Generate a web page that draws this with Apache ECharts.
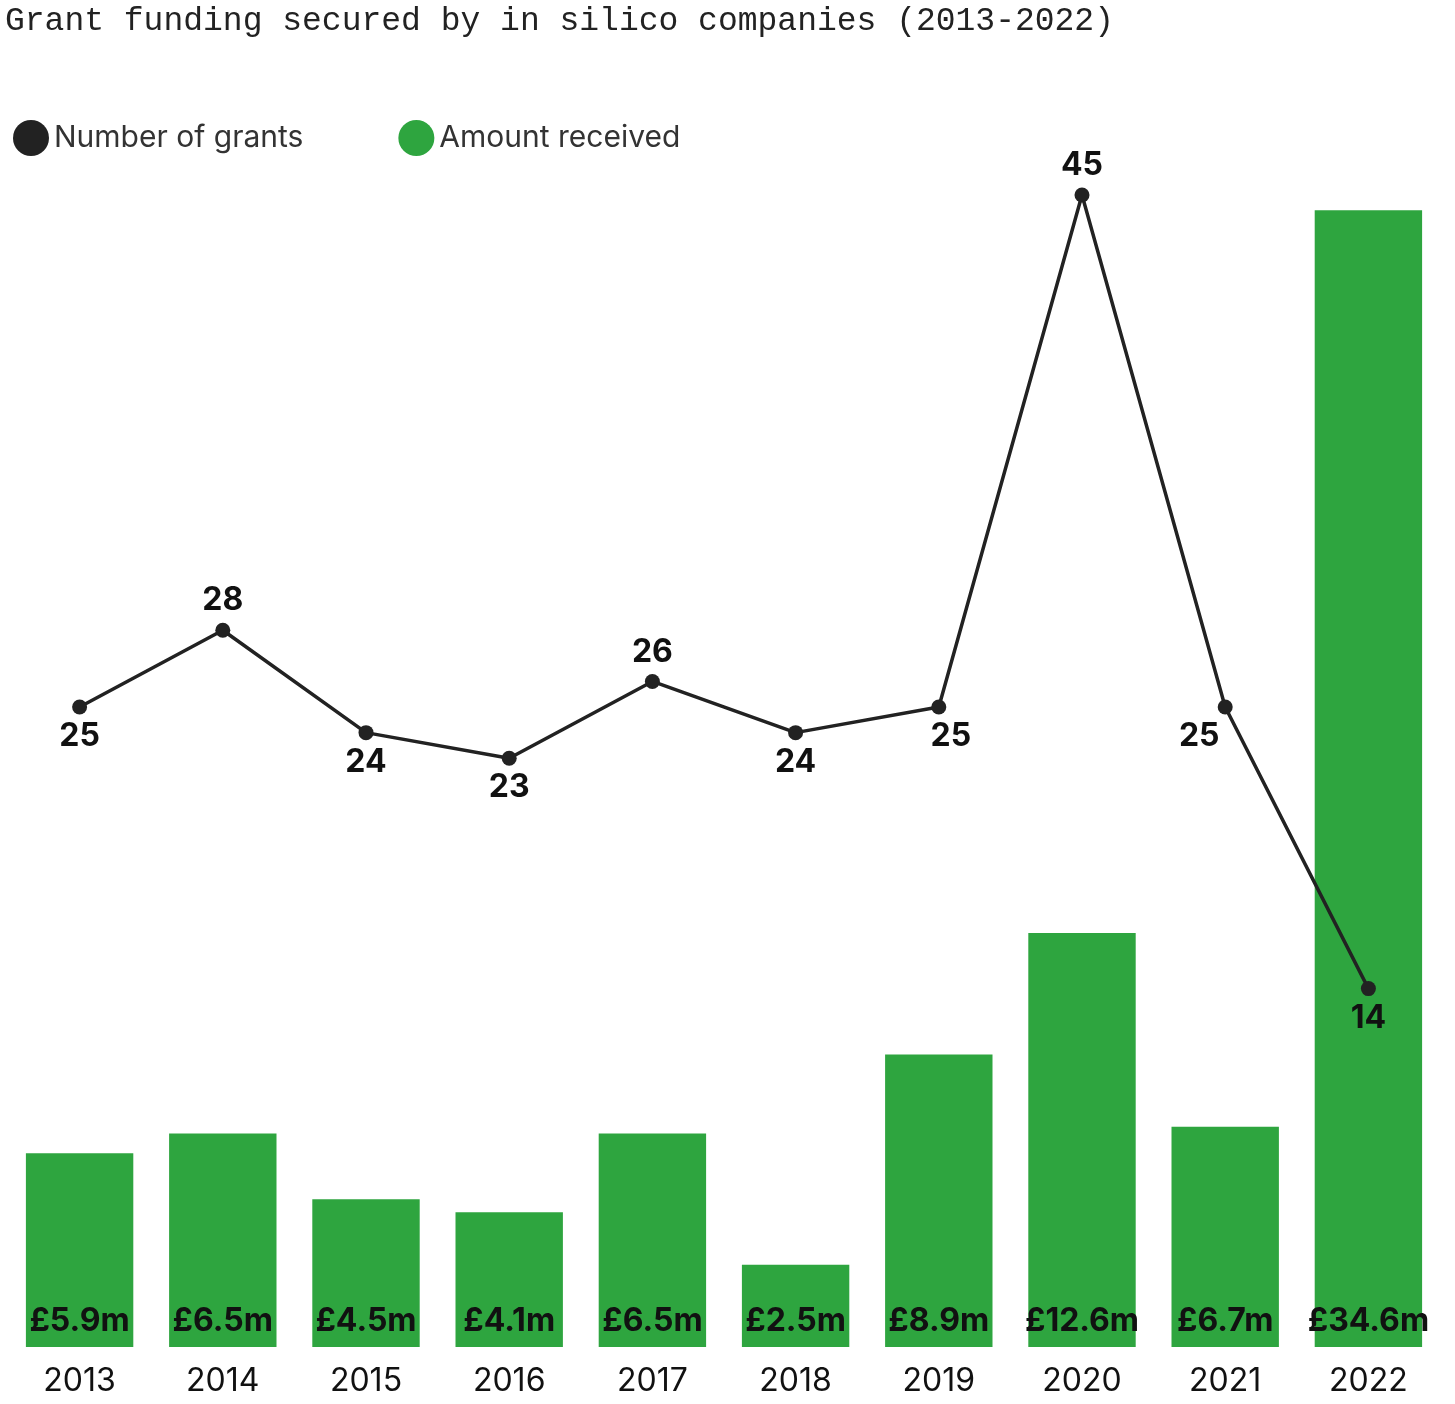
<!DOCTYPE html>
<html><head><meta charset="utf-8">
<script src="https://cdn.jsdelivr.net/npm/echarts@6/dist/echarts.min.js"></script>
<style>html,body{margin:0;background:#fff}#c{width:1455px;height:1404px}</style>
</head><body><div id="c"></div>
<script>
var years = ['2013','2014','2015','2016','2017','2018','2019','2020','2021','2022'];
var amounts = [5.9,6.5,4.5,4.1,6.5,2.5,8.9,12.6,6.7,34.6];
var grants = [25,28,24,23,26,24,25,45,25,14];
var grantLabelPos = ['bottom','top','bottom','bottom','top','bottom','bottom','top','bottomLeft','bottom'];

var chart = echarts.init(document.getElementById('c'));
var lineData = grants.map(function(v,i){
  var p = grantLabelPos[i], lbl = {position: p === 'bottomLeft' ? 'bottom' : p};
  if (p === 'bottomLeft') lbl.offset = [-26, 0];
  if (p === 'bottom' && i === 6) lbl.offset = [12, 0];
  return {value: v, label: lbl};
});
chart.setOption({
  animation: false,
  title: {text: 'Grant funding secured by in silico companies (2013-2022)', left: 0, top: 0,
    textStyle: {fontFamily: 'Liberation Mono', fontSize: 33, fontWeight: 'normal', color: '#222'}},
  legend: {left: 8, top: 115, itemWidth: 36, itemHeight: 36, itemGap: 95, icon: 'circle',
    textStyle: {fontFamily: 'Inter', fontSize: 30, color: '#333'},
    data: [{name: 'Number of grants', itemStyle: {color: '#222'}}, 'Amount received']},
  grid: {left: 8, right: 15, top: 150, bottom: 57},
  xAxis: {type: 'category', data: years, axisLine: {show: false}, axisTick: {show: false},
    axisLabel: {fontFamily: 'Inter', fontSize: 32, color: '#111', margin: 18}},
  yAxis: [
    {type: 'value', min: 0, max: 36.43, show: false},
    {type: 'value', min: 0, max: 46.76, show: false}
  ],
  series: [
    {name: 'Amount received', type: 'bar', data: amounts, barWidth: '75%', itemStyle: {color: '#2ea53f'},
      label: {show: true, position: 'insideBottom', distance: 10, fontFamily: 'Inter', fontSize: 32, fontWeight: 'bold', color: '#111',
        formatter: function(p){return '£' + p.value + 'm';}}},
    {name: 'Number of grants', type: 'line', yAxisIndex: 1, data: lineData, symbol: 'circle', symbolSize: 15,
      lineStyle: {color: '#222', width: 3.5}, itemStyle: {color: '#222'},
      label: {show: true, fontFamily: 'Inter', fontSize: 32, fontWeight: 'bold', color: '#111', distance: 6}}
  ]
});
</script></body></html>
